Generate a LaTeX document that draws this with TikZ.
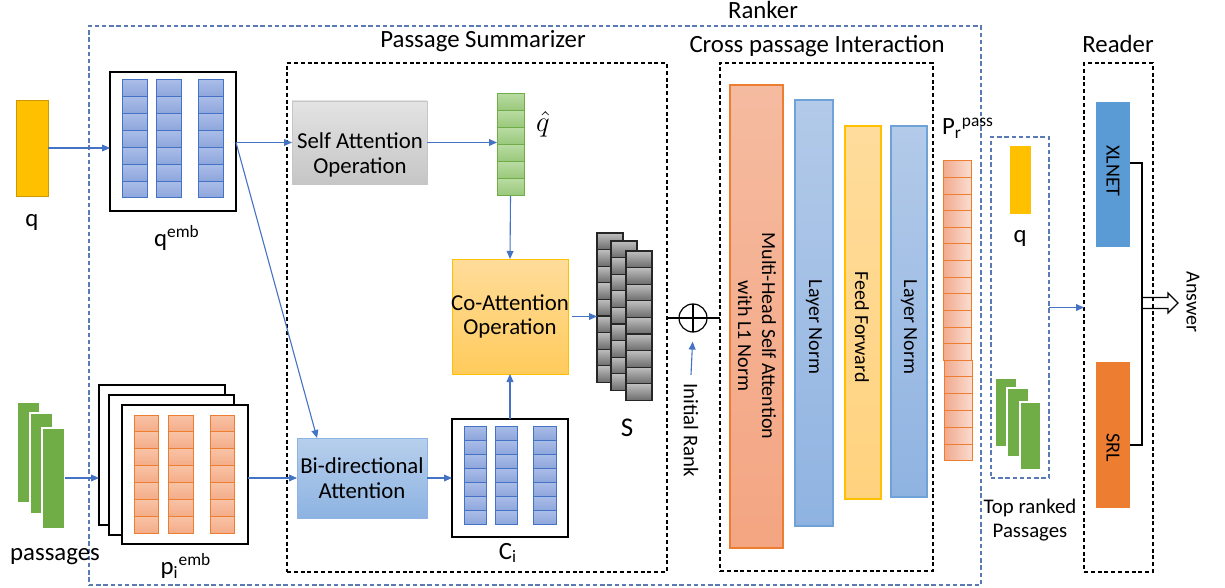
\documentclass[tikz,border=0pt]{standalone}
\usepackage{fontspec}
\setmainfont{Carlito}
\usetikzlibrary{fit,arrows.meta,calc}

\definecolor{linkblue}{HTML}{4472C4}
\definecolor{rankline}{HTML}{5A7AB5}
\definecolor{qyellow}{HTML}{FFC000}
\definecolor{embblueA}{HTML}{AABDE8}
\definecolor{embblueB}{HTML}{8DA5DB}
\definecolor{peachA}{HTML}{F8C3A6}
\definecolor{peachB}{HTML}{F4AC88}
\definecolor{peachedge}{HTML}{ED7D31}
\definecolor{psggreen}{HTML}{70AD47}
\definecolor{hatA}{HTML}{B8DBA1}
\definecolor{hatB}{HTML}{97C779}
\definecolor{coA}{HTML}{FFDC9A}
\definecolor{coB}{HTML}{FFCB5C}
\definecolor{biA}{HTML}{B7CFEC}
\definecolor{biB}{HTML}{8DB3E2}
\definecolor{biedge}{HTML}{8FB4E3}
\definecolor{mhA}{HTML}{F5BBA0}
\definecolor{mhB}{HTML}{F4A582}
\definecolor{lnA}{HTML}{B3CAE9}
\definecolor{lnB}{HTML}{8FB3E1}
\definecolor{lnedge}{HTML}{6FA3D8}
\definecolor{ffA}{HTML}{FFDC9C}
\definecolor{ffB}{HTML}{FFD27E}
\definecolor{prA}{HTML}{F1A98D}
\definecolor{prB}{HTML}{FADDD1}
\definecolor{xlblue}{HTML}{5B9BD5}
\definecolor{srlorange}{HTML}{ED7D31}

\tikzset{
  blk/.style={inner sep=0pt, outer sep=0pt},
  linkarrow/.style={draw=linkblue, line width=0.55pt, -{Triangle[length=4pt,width=3.4pt]}},
  embframe/.style={draw=black, line width=0.75pt, fill=white},
  rankbox/.style={draw=rankline, line width=0.55pt, dash pattern=on 2.2pt off 1.4pt},
  stagebox/.style={draw=black, line width=0.55pt, dash pattern=on 2pt off 1.4pt},
  qcell/.style={draw=linkblue, line width=0.5pt, top color=embblueA, bottom color=embblueB},
  pcell/.style={draw=peachedge, line width=0.5pt, top color=peachA, bottom color=peachB},
  hatcell/.style={draw=psggreen, line width=0.5pt, top color=hatA, bottom color=hatB},
  scell/.style={draw=black!85, line width=0.6pt, top color=gray!50, bottom color=gray!85!black},
  prcell/.style={draw=peachedge, line width=0.5pt, left color=prA, right color=prB},
  greenpsg/.style={fill=psggreen, draw=white, line width=0.6pt},
  titletext/.style={font=\fontsize{12.4}{14}\selectfont, inner sep=0pt},
  boxtext/.style={font=\fontsize{11.4}{12.2}\selectfont, align=center, inner sep=0pt},
  vtext/.style={rotate=-90, font=\fontsize{10}{12}\selectfont, align=center, inner sep=0pt},
}

% a column of n equal cells: style, x, y, width, height, n
\newcommand\cellrun[6]{%
  \foreach \k in {1,...,#6}{\path[#1] ({#2},{#3+(\k-1)*(#5)}) rectangle ++({#4},{#5});}}

\begin{document}
\begin{tikzpicture}[x=0.5pt,y=-0.5pt]
\useasboundingbox (0,0) rectangle (1225,588);

% ---------- enclosing regions ----------
\node[blk, rankbox, fit={(89,26) (981,585)}] (ranker) {};
\node[titletext] (rankerlbl) at (763,10) {Ranker};
\node[blk, stagebox, fit={(287,63) (667,572)}] (summ) {};
\node[titletext] (summlbl) at (483,41) {Passage Summarizer};
\node[blk, stagebox, fit={(720,63) (933,571)}] (cross) {};
\node[titletext] (crosslbl) at (817,46) {Cross passage Interaction};
\node[blk, stagebox, fit={(1084,63) (1153,572)}] (reader) {};
\node[titletext] (readerlbl) at (1118,44) {Reader};
\node[blk, rankbox, fit={(991,137) (1049,478)}] (topbox) {};

% ---------- query ----------
\node[blk, fit={(16,100) (48,196)}, fill=qyellow, draw=qyellow!80!black, line width=0.4pt] (q) {};
\node[titletext] (qlbl) at (32,222) {q};

\node[blk, embframe, fit={(110,72) (236,211)}] (qemb) {};
\cellrun{qcell}{122}{80}{25}{16.857}{7}
\cellrun{qcell}{156}{80}{25}{16.857}{7}
\cellrun{qcell}{198}{80}{25}{16.857}{7}
\node[titletext] (qemblbl) at (177,238) {q\textsuperscript{emb}};

% ---------- passages ----------
\path[greenpsg] (17,402) rectangle (40,503);
\path[greenpsg] (30,413) rectangle (53,514);
\path[greenpsg] (42,428) rectangle (65,529);
\node[blk, fit={(17,402) (65,529)}] (passages) {};
\node[titletext] (passageslbl) at (55,557) {passages};

\draw[embframe] (99,385) rectangle (225,525);
\draw[embframe] (109,395) rectangle (234,535);
\draw[embframe] (122,405) rectangle (248,544);
\node[blk, fit={(99,385) (248,544)}] (pemb) {};
\cellrun{pcell}{134}{415}{24}{16.857}{7}
\cellrun{pcell}{168}{415}{25}{16.857}{7}
\cellrun{pcell}{210}{415}{24}{16.857}{7}
\node[titletext] (pemblbl) at (186,566) {p\textsubscript{i}\textsuperscript{emb}};

% ---------- passage summarizer ----------
\node[blk, fit={(292,101) (427,184)}, draw=gray!45, top color=gray!22, bottom color=gray!45] (selfatt) {};
\node[boxtext] (selfattlbl) at (360,155) {Self Attention\\Operation};

\node[blk, fit={(497,94) (524,196)}] (qhat) {};
\cellrun{hatcell}{497}{94}{27}{17}{6}
\node[font=\fontsize{15}{16}\selectfont, inner sep=0pt] (qhatlbl) at (543,124) {$\hat{q}$};

\node[blk, fit={(452,259) (568,374)}, draw=qyellow, top color=coA, bottom color=coB] (coatt) {};
\node[boxtext] (coattlbl) at (coatt.center) {Co-Attention\\Operation};

\node[blk, fit={(297,438) (427,518)}, draw=biedge, top color=biA, bottom color=biB] (bidir) {};
\node[boxtext] (bidirlbl) at (bidir.center) {Bi-directional\\Attention};

\node[blk, embframe, fit={(452,419) (568,537)}] (ci) {};
\cellrun{qcell}{464}{426}{22}{14.14}{7}
\cellrun{qcell}{495}{426}{22}{14.14}{7}
\cellrun{qcell}{533}{426}{23}{14.14}{7}
\node[titletext] (cilbl) at (508,553) {C\textsubscript{i}};

\cellrun{scell}{597}{233}{26}{16.6}{9}
\cellrun{scell}{611}{241}{26}{16.6}{9}
\cellrun{scell}{626}{251}{26}{16.6}{9}
\node[blk, fit={(597,233) (652,400)}] (S) {};
\node[titletext, font=\fontsize{13.5}{14}\selectfont] (Slbl) at (627,428) {S};

\node[circle, draw=black, line width=0.6pt, minimum size=14pt, inner sep=0pt,
  path picture={\draw[line width=0.6pt] (path picture bounding box.north) -- (path picture bounding box.south);}] (oplus) at (693,318) {};
\node[vtext, font=\fontsize{10.4}{12}\selectfont] (initrank) at (691,430) {Initial Rank};

% ---------- cross passage interaction ----------
\node[blk, fit={(730,85) (783,548)}, draw=peachedge, line width=0.6pt, top color=mhA, bottom color=mhB] (mhsa) {};
\node[vtext] (mhsalbl) at (757,336) {Multi-Head Self Attention\\with L1 Norm};
\node[blk, fit={(795,100) (833,526)}, draw=lnedge, line width=0.6pt, top color=lnA, bottom color=lnB] (ln1) {};
\node[vtext] (ln1lbl) at (814,327) {Layer Norm};
\node[blk, fit={(845,126) (881,499)}, draw=qyellow, line width=0.6pt, top color=ffA, bottom color=ffB] (ff) {};
\node[vtext] (fflbl) at (862,327) {Feed Forward};
\node[blk, fit={(891,126) (927,497)}, draw=lnedge, line width=0.6pt, top color=lnA, bottom color=lnB] (ln2) {};
\node[vtext] (ln2lbl) at (909,327) {Layer Norm};

\cellrun{prcell}{943}{161}{28}{16.6}{12}
\cellrun{prcell}{944.5}{360}{28}{16.8}{6}
\node[blk, fit={(943,161) (972.5,461)}] (pr) {};
\node[titletext] (prlbl) at (968,128) {P\textsubscript{r}\textsuperscript{pass}};

% ---------- top ranked passages ----------
\node[blk, fit={(1010,146) (1031,214)}, fill=qyellow] (qtop) {};
\node[titletext] (qtoplbl) at (1020,238) {q};
\path[greenpsg] (995,378) rectangle (1017,447);
\path[greenpsg] (1007,388) rectangle (1029,457);
\path[greenpsg] (1020,402) rectangle (1041,470);
\node[blk, fit={(995,378) (1041,470)}] (toppsg) {};
\node[font=\fontsize{10.4}{12}\selectfont, align=center, inner sep=0pt] (toplbl) at (1030,520) {Top ranked\\Passages};

% ---------- reader ----------
\node[blk, fit={(1096,102) (1130,247)}, fill=xlblue] (xlnet) {};
\node[vtext] (xlnetlbl) at (1113,171) {XLNET};
\node[blk, fit={(1096,362) (1130,508)}, fill=srlorange] (srl) {};
\node[vtext] (srllbl) at (1113,448) {SRL};
\coordinate (join) at (1142,303);
\draw[black, line width=0.6pt] ($(xlnet.east)+(0,-11.5)$) -| (join) |- ($(srl.east)+(0,10)$);
\draw[black, line width=0.6pt] (join) ++(0,-5.5) -- ++(26,0) -- ++(0,-4.5) -- ++(10,10)
  -- ++(-10,10) -- ++(0,-4.5) -- ++(-26,0) -- cycle;
\node[vtext] (answer) at (1193,302) {Answer};

% ---------- connectors ----------
\draw[linkarrow] (q.east) -- (q.east -| qemb.west);
\draw[linkarrow] (selfatt.west -| qemb.east) -- (selfatt.west);
\draw[linkarrow] (selfatt.west -| qemb.east) -- ($(bidir.north west)!0.154!(bidir.north east)$);
\draw[linkarrow] (selfatt.east) -- (selfatt.east -| qhat.west);
\draw[linkarrow] (qhat.south) -- (coatt.north);
\draw[linkarrow] (ci.north) -- (coatt.south);
\draw[linkarrow] (bidir.west -| passages.east) -- (bidir.west -| pemb.west);
\draw[linkarrow] (bidir.west -| pemb.east) -- (bidir.west);
\draw[linkarrow] (bidir.east) -- (bidir.east -| ci.west);
\draw[linkarrow, shorten <=2pt] (coatt.east) -- (coatt.east -| S.west);
\draw[black, line width=0.6pt] (oplus.center -| summ.east) -- (oplus.center -| cross.west);
\draw[linkarrow, shorten >=4.5pt] ($(initrank.west)+(0,-8)$) -- (oplus.south);
\draw[linkarrow] (topbox.east) -- (topbox.east -| reader.west);
\end{tikzpicture}
\end{document}
